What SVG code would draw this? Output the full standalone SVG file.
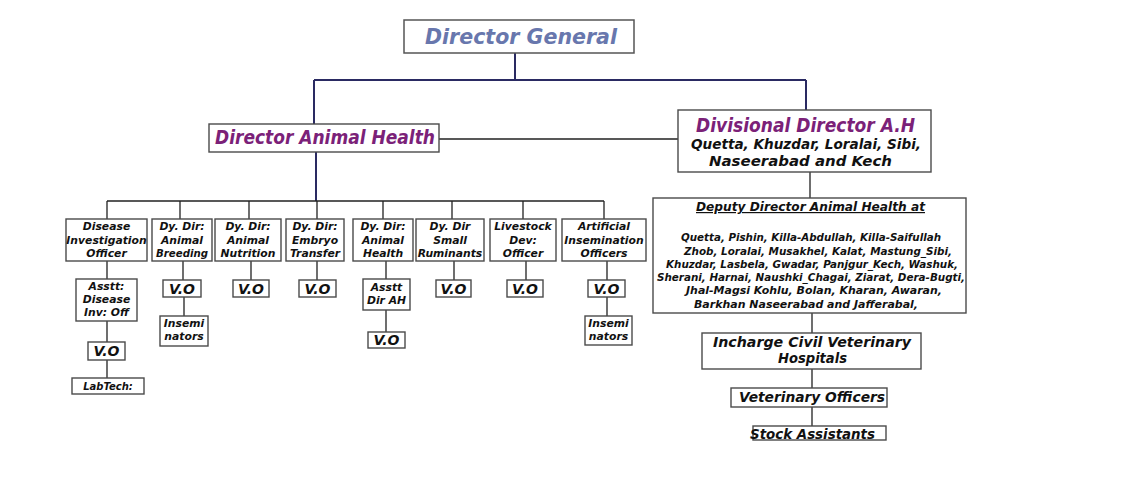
<svg xmlns="http://www.w3.org/2000/svg" width="1124" height="492" viewBox="0 0 1124 492">
<style>
.bx{fill:#fff;stroke:#4a4a4a;stroke-width:1.4}
.t{font-family:"DejaVu Sans",sans-serif;font-weight:bold;font-style:oblique;fill:#111;text-anchor:middle}
.s{font-size:10.8px}
.vo{font-size:14px}
.big{font-size:19px;fill:#7b2178}
.nv{fill:none;stroke:#2a2a62;stroke-width:2}
.ln{fill:none;stroke:#222;stroke-width:1.3}
</style>
<rect width="1124" height="492" fill="#fff"/>
<g id="connectors">
<path class="nv" d="M515,53V80M314,80H806M314,80V125M806,80V110M316,152V201"/>
<path class="ln" d="M439,139H679M810,172V198M107,201H604"/>
<path class="ln" d="M107,201V219M180,201V219M249,201V219M317,201V219M383,201V219M452,201V219M523,201V219M604,201V219"/>
<path class="ln" d="M107,261V279M107,321V342M107,360V378"/>
<path class="ln" d="M183,261V280M184,297V316"/>
<path class="ln" d="M251,261V280M317,261V280"/>
<path class="ln" d="M386,261V279M386,310V332"/>
<path class="ln" d="M454,261V280M526,261V280M607,261V280M607,297V316"/>
<path class="ln" d="M812,313V333M812,369V388M812,407V426"/>
</g>
<g id="director-general">
<rect x="404" y="20" width="230" height="33" fill="#fff" stroke="#555" stroke-width="1.5"/>
<text class="t" x="521" y="44" style="font-size:22px;fill:#6877ad;font-weight:bold" textLength="192" lengthAdjust="spacingAndGlyphs">Director General</text>
</g>
<g id="director-animal-health">
<rect class="bx" x="209" y="124" width="230" height="28"/>
<text class="t big" x="325" y="144" textLength="220" lengthAdjust="spacingAndGlyphs">Director Animal Health</text>
</g>
<g id="divisional-director">
<rect class="bx" x="678" y="110" width="253" height="62"/>
<text class="t big" x="805.5" y="132" textLength="219" lengthAdjust="spacingAndGlyphs">Divisional Director A.H</text>
<text class="t" x="806" y="149" style="font-size:14px" textLength="230" lengthAdjust="spacingAndGlyphs">Quetta, Khuzdar, Loralai, Sibi,</text>
<text class="t" x="800.5" y="166" style="font-size:14px" textLength="183" lengthAdjust="spacingAndGlyphs">Naseerabad  and Kech</text>
</g>
<g id="disease-investigation-officer">
<rect class="bx" x="66" y="219" width="81" height="42"/>
<text class="t s" x="106.5" y="230">Disease</text>
<text class="t s" x="106.5" y="243.5">Investigation</text>
<text class="t s" x="106.5" y="257">Officer</text>
</g>
<g id="dy-dir-animal-breeding">
<rect class="bx" x="152" y="219" width="60" height="42"/>
<text class="t s" x="182" y="230">Dy. Dir:</text>
<text class="t s" x="182" y="243.5">Animal</text>
<text class="t s" x="182" y="257" textLength="52" lengthAdjust="spacingAndGlyphs">Breeding</text>
</g>
<g id="dy-dir-animal-nutrition">
<rect class="bx" x="215" y="219" width="66" height="42"/>
<text class="t s" x="248" y="230">Dy. Dir:</text>
<text class="t s" x="248" y="243.5">Animal</text>
<text class="t s" x="248" y="257">Nutrition</text>
</g>
<g id="dy-dir-embryo-transfer">
<rect class="bx" x="286" y="219" width="58" height="42"/>
<text class="t s" x="315" y="230">Dy. Dir:</text>
<text class="t s" x="315" y="243.5">Embryo</text>
<text class="t s" x="315" y="257">Transfer</text>
</g>
<g id="dy-dir-animal-health">
<rect class="bx" x="353" y="219" width="60" height="42"/>
<text class="t s" x="383" y="230">Dy. Dir:</text>
<text class="t s" x="383" y="243.5">Animal</text>
<text class="t s" x="383" y="257">Health</text>
</g>
<g id="dy-dir-small-ruminants">
<rect class="bx" x="416" y="219" width="68" height="42"/>
<text class="t s" x="450" y="230">Dy. Dir</text>
<text class="t s" x="450" y="243.5">Small</text>
<text class="t s" x="450" y="257">Ruminants</text>
</g>
<g id="livestock-dev-officer">
<rect class="bx" x="490" y="219" width="66" height="42"/>
<text class="t s" x="523" y="230">Livestock</text>
<text class="t s" x="523" y="243.5">Dev:</text>
<text class="t s" x="523" y="257">Officer</text>
</g>
<g id="artificial-insemination-officers">
<rect class="bx" x="562" y="219" width="84" height="42"/>
<text class="t s" x="604" y="230">Artificial</text>
<text class="t s" x="604" y="243.5">Insemination</text>
<text class="t s" x="604" y="257">Officers</text>
</g>
<g id="asstt-disease-inv-off">
<rect class="bx" x="76" y="279" width="61" height="42"/>
<text class="t s" x="106.5" y="290">Asstt:</text>
<text class="t s" x="106.5" y="303">Disease</text>
<text class="t s" x="106.5" y="316">Inv: Off</text>
</g>
<g id="vo-disease">
<rect class="bx" x="88" y="342" width="37" height="18"/>
<text class="t vo" x="106.5" y="356">V.O</text>
</g>
<g id="labtech">
<rect class="bx" x="72" y="378" width="72" height="16"/>
<text class="t" x="108" y="390" style="font-size:10px">LabTech:</text>
</g>
<g id="vo-breeding">
<rect class="bx" x="163" y="280" width="38" height="17"/>
<text class="t vo" x="182" y="294">V.O</text>
</g>
<g id="inseminators-breeding">
<rect class="bx" x="160" y="316" width="48" height="30"/>
<text class="t s" x="184" y="327">Insemi</text>
<text class="t s" x="184" y="340">nators</text>
</g>
<g id="vo-nutrition">
<rect class="bx" x="233" y="280" width="36" height="17"/>
<text class="t vo" x="251" y="294">V.O</text>
</g>
<g id="vo-embryo">
<rect class="bx" x="299" y="280" width="37" height="17"/>
<text class="t vo" x="317.5" y="294">V.O</text>
</g>
<g id="asstt-dir-ah">
<rect class="bx" x="363" y="279" width="47" height="31"/>
<text class="t s" x="386.5" y="291">Asstt</text>
<text class="t s" x="386.5" y="304">Dir AH</text>
</g>
<g id="vo-animal-health">
<rect class="bx" x="368" y="332" width="37" height="16"/>
<text class="t vo" x="386.5" y="345">V.O</text>
</g>
<g id="vo-ruminants">
<rect class="bx" x="436" y="280" width="35" height="17"/>
<text class="t vo" x="453.5" y="294">V.O</text>
</g>
<g id="vo-livestock">
<rect class="bx" x="507" y="280" width="36" height="17"/>
<text class="t vo" x="525" y="294">V.O</text>
</g>
<g id="vo-ai">
<rect class="bx" x="588" y="280" width="37" height="17"/>
<text class="t vo" x="606.5" y="294">V.O</text>
</g>
<g id="inseminators-ai">
<rect class="bx" x="585" y="316" width="47" height="29"/>
<text class="t s" x="608.5" y="327">Insemi</text>
<text class="t s" x="608.5" y="340">nators</text>
</g>
<g id="deputy-director-animal-health">
<rect class="bx" x="653" y="198" width="313" height="115"/>
<text class="t" x="810.5" y="211" style="font-size:12px;text-decoration:underline" textLength="229" lengthAdjust="spacingAndGlyphs">Deputy Director Animal Health at</text>
<g style="font-size:11px">
<text class="t" x="811" y="241" textLength="260" lengthAdjust="spacingAndGlyphs">Quetta, Pishin, Killa-Abdullah, Killa-Saifullah</text>
<text class="t" x="818" y="254.5" textLength="268" lengthAdjust="spacingAndGlyphs">Zhob, Loralai, Musakhel, Kalat, Mastung_Sibi,</text>
<text class="t" x="812" y="268" textLength="292" lengthAdjust="spacingAndGlyphs">Khuzdar, Lasbela, Gwadar, Panjgur_Kech, Washuk,</text>
<text class="t" x="811" y="281" textLength="308" lengthAdjust="spacingAndGlyphs">Sherani, Harnai, Naushki_Chagai, Ziarat, Dera-Bugti,</text>
<text class="t" x="814" y="294" textLength="256" lengthAdjust="spacingAndGlyphs">Jhal-Magsi Kohlu, Bolan, Kharan, Awaran,</text>
<text class="t" x="806" y="307.5" textLength="224" lengthAdjust="spacingAndGlyphs">Barkhan Naseerabad and Jafferabal,</text>
</g>
</g>
<g id="incharge-civil-veterinary-hospitals">
<rect class="bx" x="702" y="333" width="219" height="36"/>
<text class="t" x="812" y="347" style="font-size:14px" textLength="198" lengthAdjust="spacingAndGlyphs">Incharge Civil Veterinary</text>
<text class="t" x="812.5" y="363" style="font-size:14px" textLength="69" lengthAdjust="spacingAndGlyphs">Hospitals</text>
</g>
<g id="veterinary-officers">
<rect class="bx" x="731" y="388" width="156" height="19"/>
<text class="t" x="812" y="402" style="font-size:14px" textLength="146" lengthAdjust="spacingAndGlyphs">Veterinary Officers</text>
</g>
<g id="stock-assistants">
<rect class="bx" x="753" y="426" width="133" height="14"/>
<text class="t" x="812.5" y="438.5" style="font-size:14px" textLength="125" lengthAdjust="spacingAndGlyphs">Stock Assistants</text>
</g>
</svg>
